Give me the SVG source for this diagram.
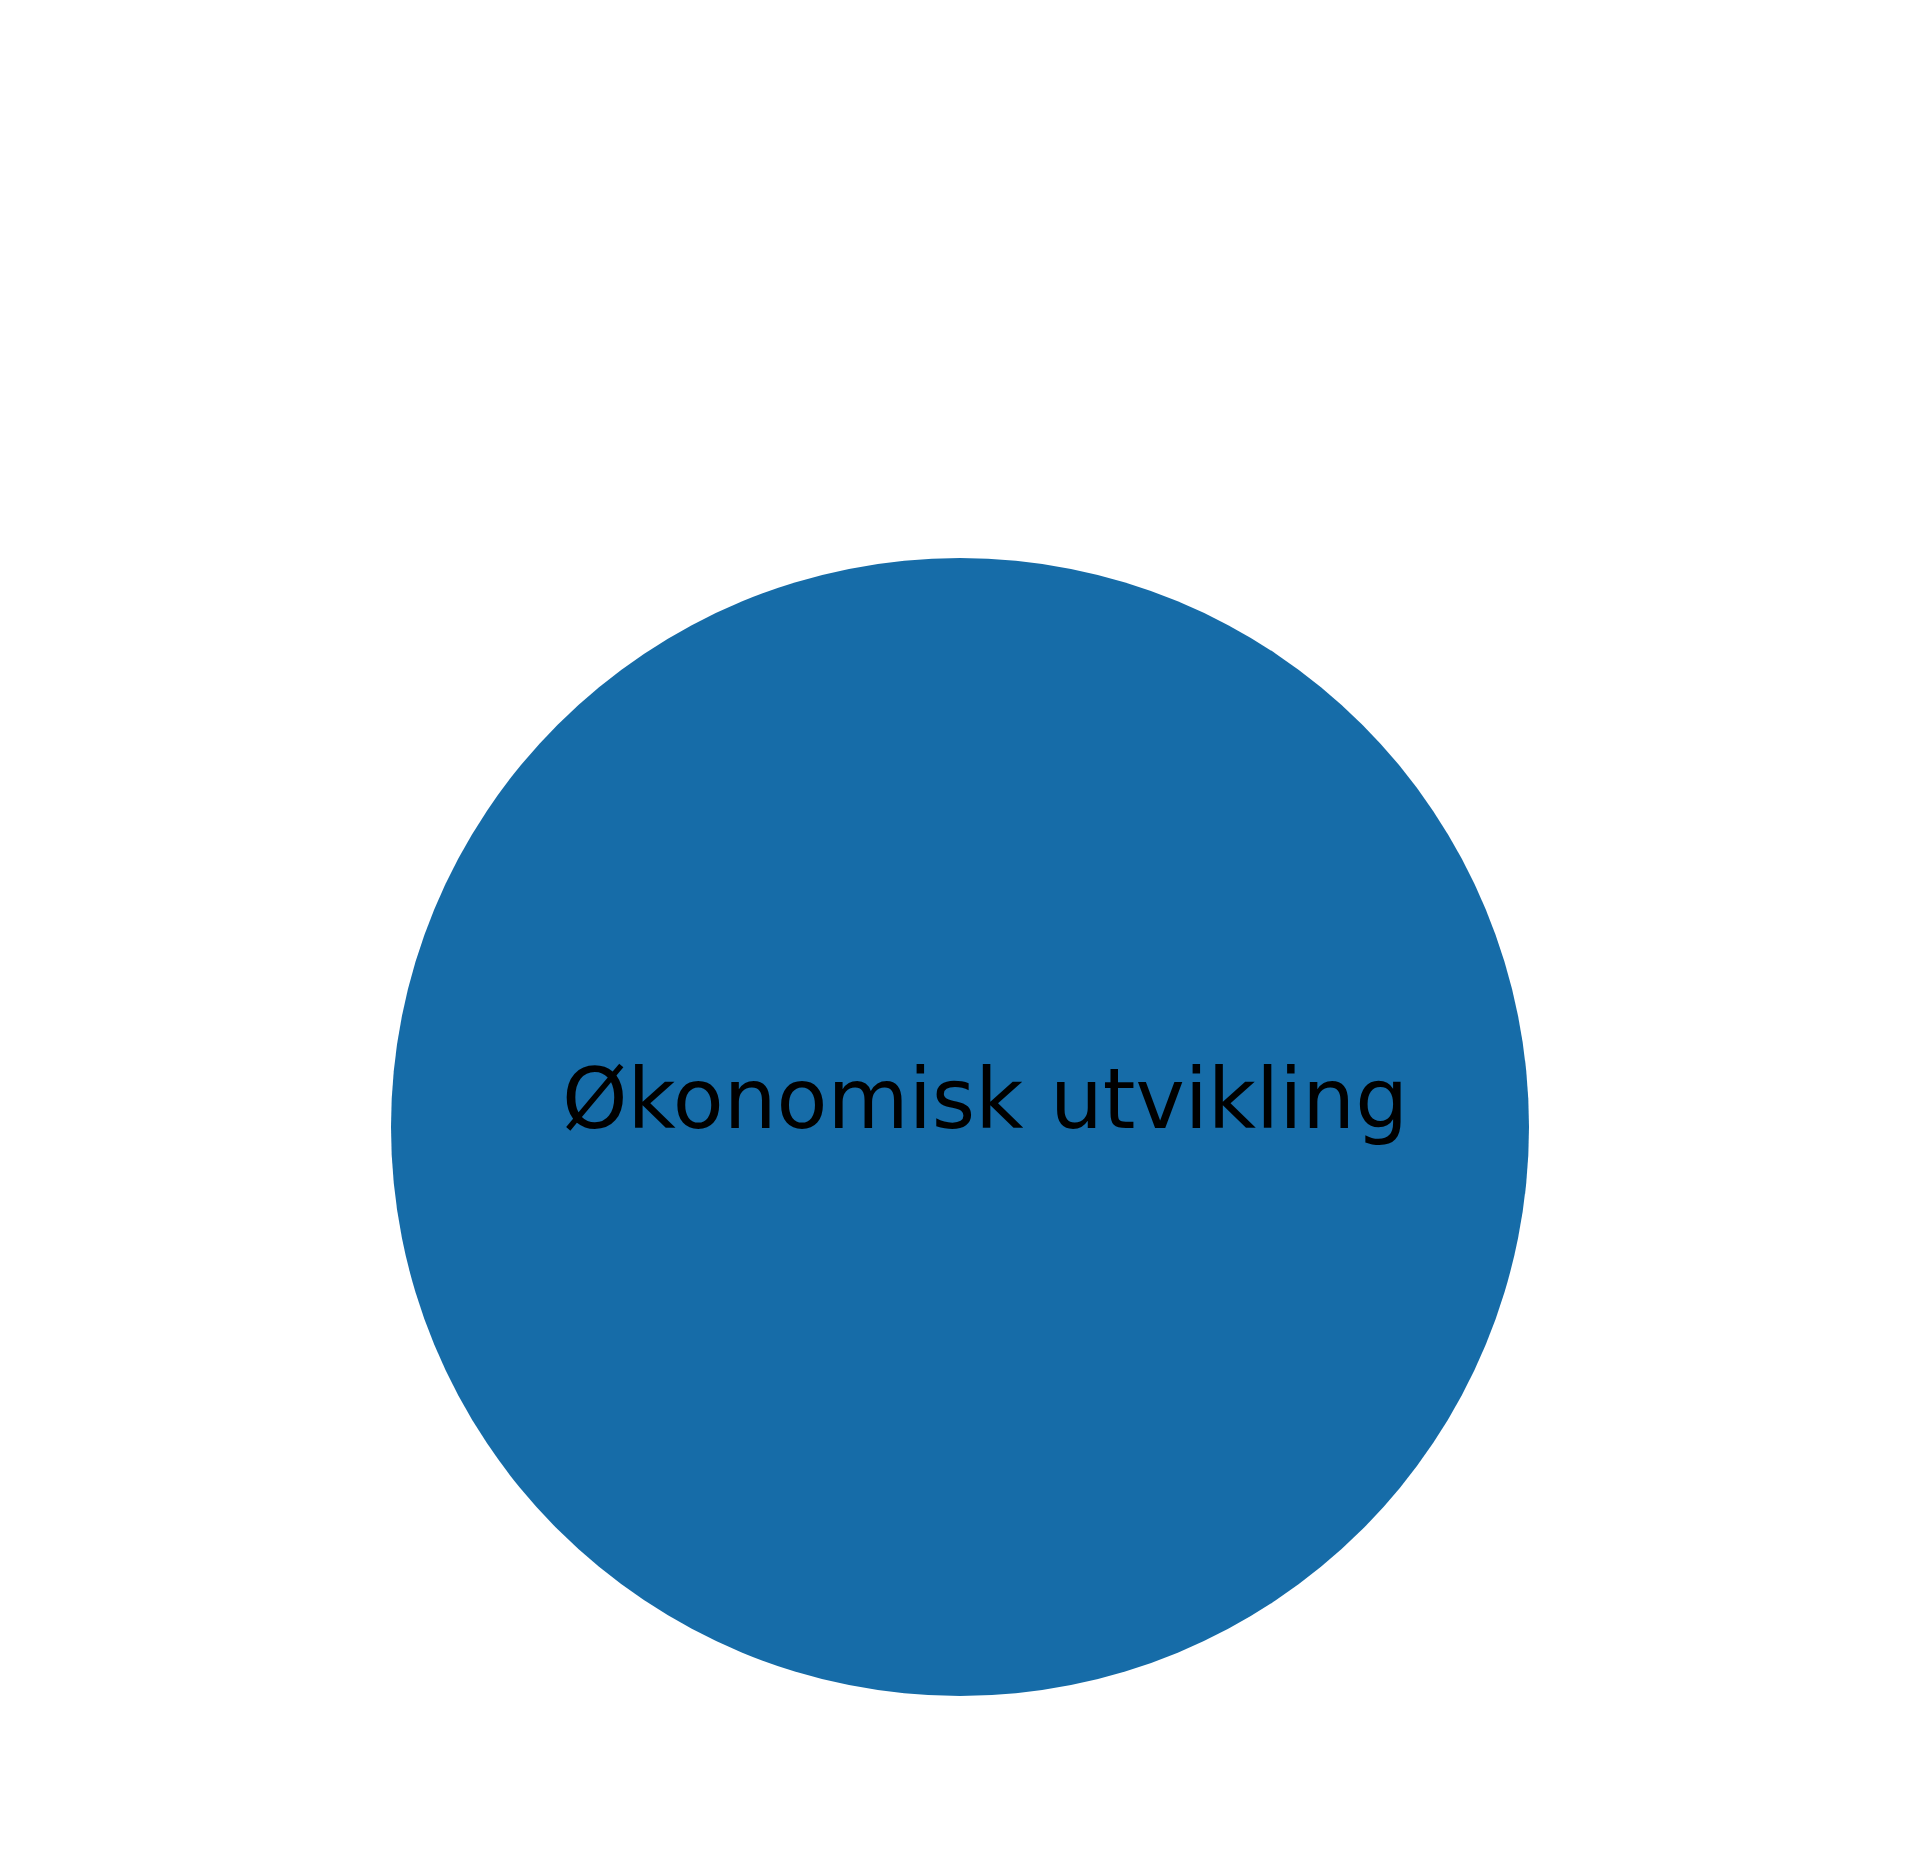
<svg xmlns="http://www.w3.org/2000/svg" width="1919" height="1858" viewBox="0 0 1919 1858">
<style>
.node-shape{fill:#166ca8;stroke:none}
.node-label{font-family:"DejaVu Sans",sans-serif;font-size:83.3px;fill:#000000}
</style>
<rect x="0" y="0" width="1919" height="1858" fill="#ffffff"/>
<g id="connectors"></g>
<g id="node-okonomisk-utvikling">
<circle class="node-shape" cx="960" cy="1127" r="569"/>
<text class="node-label" x="985" y="1128" text-anchor="middle">Økonomisk utvikling</text>
</g>
</svg>
